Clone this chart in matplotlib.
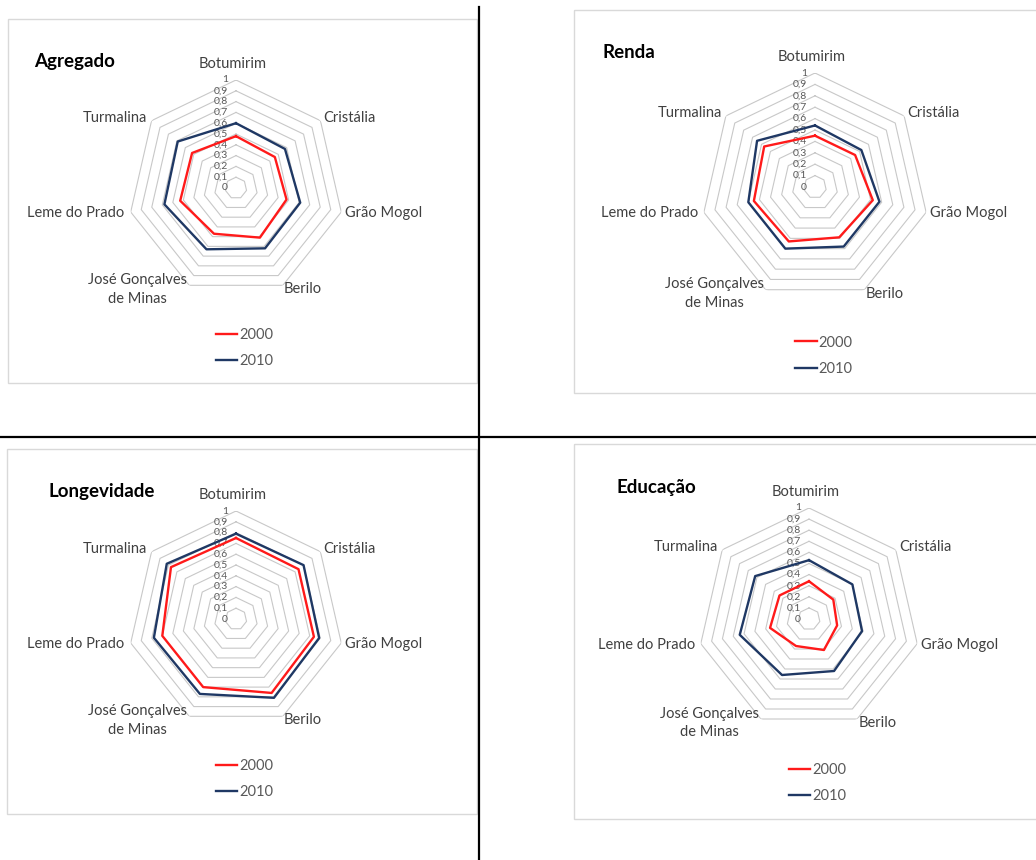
import numpy as np
import matplotlib.pyplot as plt
from matplotlib.patches import Rectangle

plt.rcParams['font.family'] = ['Lato', 'DejaVu Sans']

W, H = 1036, 860

municipios = ["Botumirim", "Cristália", "Grão Mogol", "Berilo",
              "José Gonçalves\nde Minas", "Leme do Prado", "Turmalina"]
anos = ["2000", "2010"]

agregado_2000 = [0.48, 0.46, 0.48, 0.51, 0.47, 0.53, 0.52]
agregado_2010 = [0.60, 0.58, 0.61, 0.62, 0.63, 0.68, 0.69]
renda_2000 = [0.45, 0.45, 0.52, 0.49, 0.53, 0.55, 0.57]
renda_2010 = [0.54, 0.52, 0.58, 0.58, 0.60, 0.60, 0.65]
longevidade_2000 = [0.75, 0.74, 0.74, 0.76, 0.70, 0.70, 0.77]
longevidade_2010 = [0.79, 0.80, 0.79, 0.81, 0.77, 0.78, 0.82]
educacao_2000 = [0.34, 0.28, 0.26, 0.31, 0.27, 0.36, 0.34]
educacao_2010 = [0.53, 0.50, 0.49, 0.52, 0.56, 0.64, 0.62]

niveis = [0, 0.1, 0.2, 0.3, 0.4, 0.5, 0.6, 0.7, 0.8, 0.9, 1]
niveis_labels = ["0", "0,1", "0,2", "0,3", "0,4", "0,5", "0,6", "0,7", "0,8", "0,9", "1"]

cores = {"2000": "#ff1a1a", "2010": "#1f3864"}
cor_grade = "#c8c8c8"
cor_texto = "#404040"

# label placement around each vertex: (dx px, dy px, ha)
label_pos = [(-3, 16, "center"), (3, 3, "left"), (4, -1, "left"), (1, -4, "left"),
             (-2, -4, "right"), (-6, -1, "right"), (-4, 3, "right")]

fig = plt.figure(figsize=(W / 100, H / 100), dpi=100)

# background layer in pixel coordinates for boxes, separators and titles
bg = fig.add_axes([0, 0, 1, 1])
bg.set_xlim(0, W)
bg.set_ylim(H, 0)
bg.axis("off")

for (x0, y0, x1, y1) in [(8, 19, 477, 383), (574, 10, 1045, 393),
                         (7, 449, 477, 814), (574, 444, 1045, 819)]:
    bg.add_patch(Rectangle((x0, y0), x1 - x0, y1 - y0, fill=False,
                           edgecolor="#d9d9d9", linewidth=1))
bg.plot([479, 479], [7, H], color="black", linewidth=1.6)
bg.plot([0, W], [437, 437], color="black", linewidth=1.6)


def radar(cx, cy, r, titulo, tx, ty, v2000, v2010):
    ax = fig.add_axes([(cx - r) / W, 1 - (cy + r) / H, 2 * r / W, 2 * r / H],
                      projection="polar")
    ax.set_theta_zero_location("N")
    ax.set_theta_direction(-1)
    ax.set_ylim(0, 1)
    ax.axis("off")

    theta = np.linspace(0, 2 * np.pi, len(municipios), endpoint=False)
    theta_f = np.append(theta, theta[0])

    # heptagonal grid rings
    for nivel in niveis[1:]:
        ax.plot(theta_f, [nivel] * len(theta_f), color=cor_grade,
                linewidth=0.8, zorder=1)

    for nivel, lab in zip(niveis, niveis_labels):
        ax.annotate(lab, xy=(0, nivel), xytext=(-8, 0), textcoords="offset pixels",
                    ha="right", va="center", fontsize=7.5, color="#595959",
                    zorder=2)

    for ano, vals in zip(anos, [v2000, v2010]):
        ax.plot(theta_f, np.append(vals, vals[0]), color=cores[ano],
                linewidth=1.7, label=ano, zorder=3)

    for ang, nome, (dx, dy, ha) in zip(theta, municipios, label_pos):
        ax.annotate(nome, xy=(ang, 1), xytext=(dx, dy), textcoords="offset pixels",
                    ha=ha, va="center", multialignment="center",
                    fontsize=10.5, color=cor_texto, linespacing=1.45)

    leg = ax.legend(loc="center", bbox_to_anchor=(0.54, -0.24), frameon=False,
                    handlelength=1.45, handletextpad=0.15, labelspacing=0.85,
                    fontsize=10.5)
    for t in leg.get_texts():
        t.set_color("#595959")

    bg.text(tx, ty, titulo, ha="left", va="center", fontsize=13.5,
            fontweight="bold", color="black")


radar(236, 188, 108, "Agregado", 34, 61, agregado_2000, agregado_2010)
radar(815, 187, 114, "Renda", 602, 53, renda_2000, renda_2010)
radar(236, 619, 108, "Longevidade", 48, 492, longevidade_2000, longevidade_2010)
radar(809, 619, 111, "Educação", 616, 487, educacao_2000, educacao_2010)

fig.savefig("out.png", dpi=100)
